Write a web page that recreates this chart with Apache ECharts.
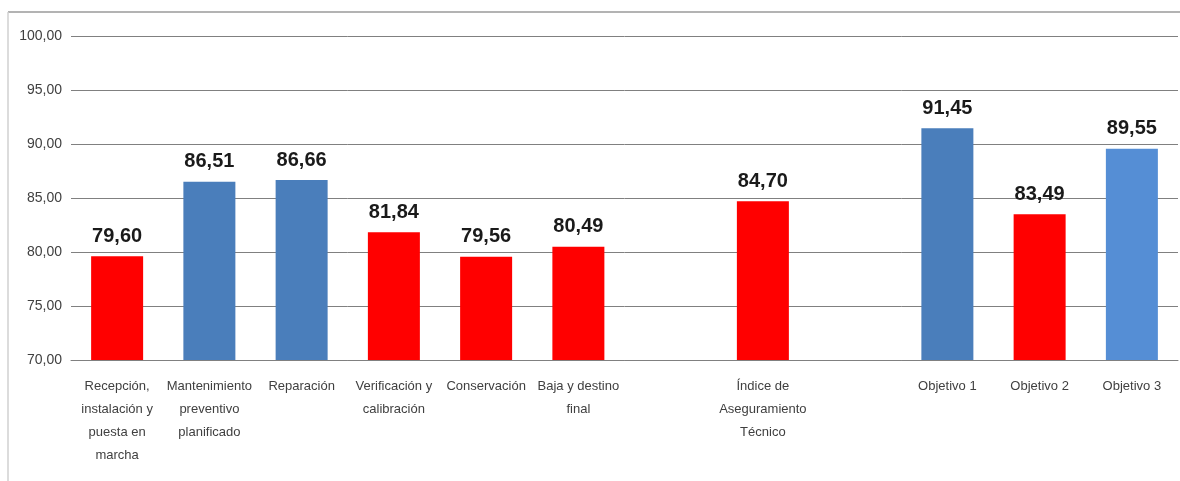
<!DOCTYPE html>
<html><head><meta charset="utf-8">
<script src="https://cdn.jsdelivr.net/npm/echarts@6/dist/echarts.min.js"></script>
<style>html,body{margin:0;padding:0;background:#fff}#c{width:1180px;height:481px}</style>
</head><body><div id="c"></div>
<script>
const categories = [
  'Recepción,\ninstalación y\npuesta en\nmarcha',
  'Mantenimiento\npreventivo\nplanificado',
  'Reparación',
  'Verificación y\ncalibración',
  'Conservación',
  'Baja y destino\nfinal',
  '',
  'Índice de\nAseguramiento\nTécnico',
  '',
  'Objetivo 1',
  'Objetivo 2',
  'Objetivo 3'
];
const values = [79.60, 86.51, 86.66, 81.84, 79.56, 80.49, null, 84.70, null, 91.45, 83.49, 89.55];
const barColors = ['#FF0000', '#4A7EBB', '#4A7EBB', '#FF0000', '#FF0000', '#FF0000', null, '#FF0000', null, '#4A7EBB', '#FF0000', '#558ED5'];
const yTicks = { min: 70, max: 100, interval: 5 };

const FONT = "'Liberation Sans', Arial, sans-serif";
const fmt = v => v.toFixed(2).replace('.', ',');

const chart = echarts.init(document.getElementById('c'));
chart.setOption({
  animation: false,
  backgroundColor: '#fff',
  graphic: [
    { type: 'line', shape: { x1: 8, y1: 12, x2: 1180, y2: 12 }, style: { stroke: '#9a9a9a', lineWidth: 1.5 } },
    { type: 'line', shape: { x1: 8, y1: 12, x2: 8, y2: 481 }, style: { stroke: '#d0d0d0', lineWidth: 1.5 } }
  ],
  grid: { left: 71, right: 2, top: 36, bottom: 121 },
  xAxis: {
    type: 'category',
    data: categories,
    axisLine: { show: true, lineStyle: { color: '#808080', width: 1 } },
    axisTick: { show: false },
    axisLabel: {
      interval: 0, margin: 15, color: '#404040', fontSize: 13, lineHeight: 23,
      fontFamily: FONT, verticalAlign: 'top'
    }
  },
  yAxis: {
    type: 'value', min: yTicks.min, max: yTicks.max, interval: yTicks.interval,
    axisLine: { show: false }, axisTick: { show: false },
    splitLine: { lineStyle: { color: '#808080', width: 1 } },
    axisLabel: { formatter: fmt, color: '#404040', fontSize: 14, fontFamily: FONT, margin: 9 }
  },
  series: [{
    type: 'bar',
    barWidth: 52,
    data: values.map((v, i) => ({ value: v, itemStyle: { color: barColors[i] || '#fff' } })),
    label: {
      show: true, position: 'top', distance: 10,
      formatter: p => p.value == null ? '' : fmt(p.value),
      color: '#1a1a1a', fontSize: 20, fontWeight: 'bold', fontFamily: FONT
    }
  }]
});
</script></body></html>
